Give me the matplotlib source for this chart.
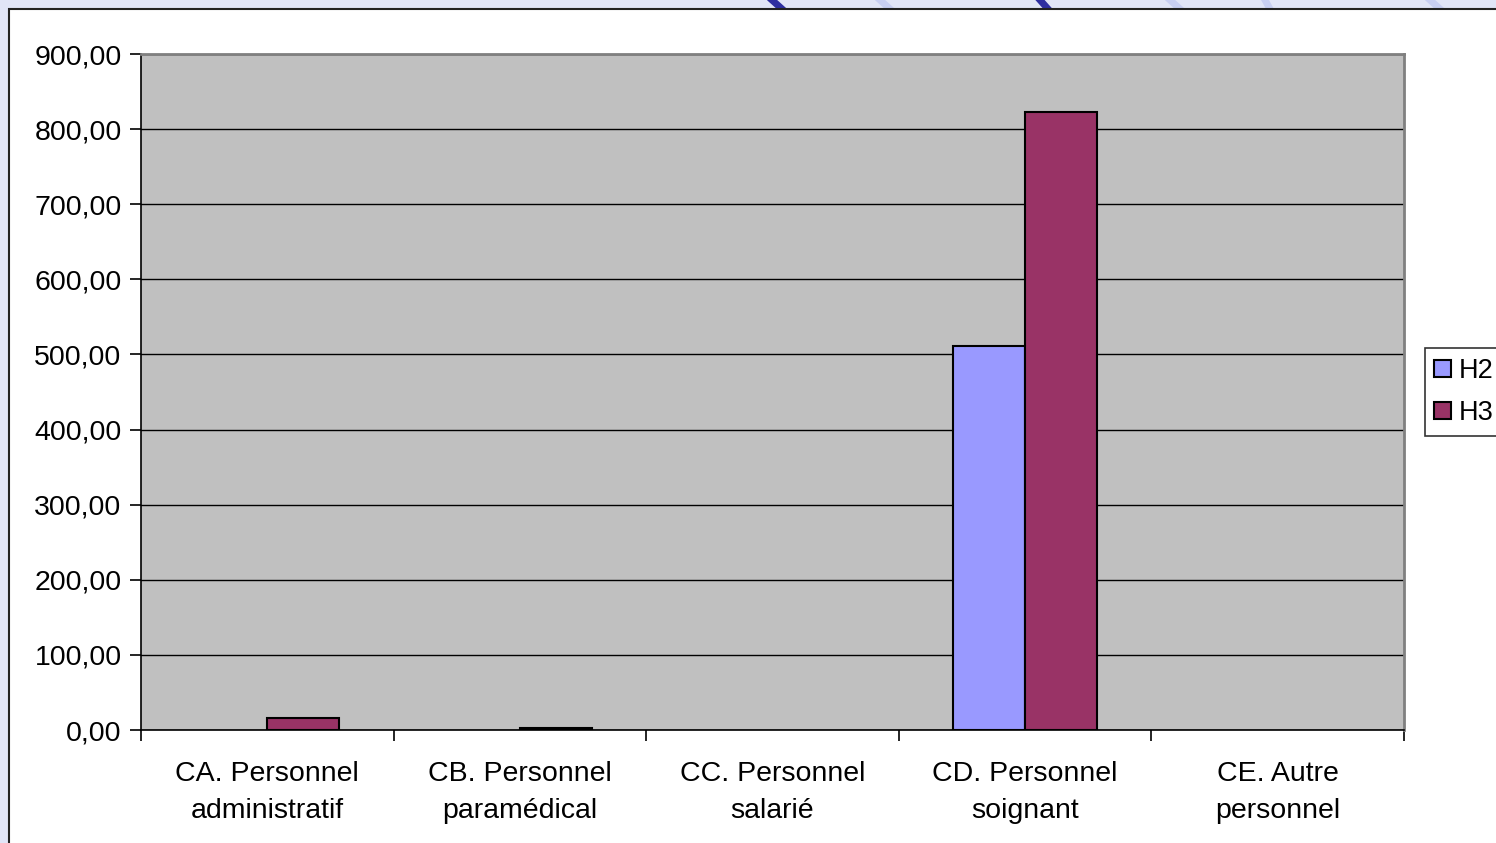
import numpy as np
import matplotlib
matplotlib.use("Agg")
from matplotlib import pyplot as plt
from matplotlib.patches import Rectangle
from matplotlib.ticker import FuncFormatter

categories = ["CA. Personnel\nadministratif", "CB. Personnel\nparamédical",
              "CC. Personnel\nsalarié", "CD. Personnel\nsoignant",
              "CE. Autre\npersonnel"]
h2 = [0, 0, 0, 511, 0]
h3 = [16, 3, 0, 823, 0]
series_names = ["H2", "H3"]

plt.rcParams['font.family'] = ['Liberation Sans', 'DejaVu Sans']

W, H = 1496, 843
fig = plt.figure(figsize=(W / 100, H / 100), dpi=100)
fig.patch.set_facecolor("#E1E5F7")

# faint watermark strokes at the top edge
for x0, x1, c, lw in [(772, 782, "#2E2EA0", 5), (1040, 1048, "#2E2EA0", 5),
                      (880, 890, "#C8CFF2", 5), (1170, 1180, "#C8CFF2", 5),
                      (1265, 1270, "#C8CFF2", 5), (1430, 1440, "#C8CFF2", 5)]:
    fig.add_artist(plt.Line2D([x0 / W, x1 / W], [1, 1 - 9 / H], color=c, lw=lw,
                              transform=fig.transFigure, zorder=0))

# white chart area with dark border
fig.add_artist(Rectangle((9 / W, -0.1), 1.2, 1 - 9 / H + 0.1, transform=fig.transFigure,
                         facecolor="white", edgecolor="#222222", lw=1.5, zorder=1))

ax = fig.add_axes([141 / W, 1 - 730 / H, (1404 - 141) / W, (730 - 54) / H])
ax.set_zorder(2)
ax.set_facecolor("#C0C0C0")

x = np.arange(len(categories))
w = 1 / 3.5
b1 = ax.bar(x - w / 2, h2, w, color="#9999FF", edgecolor="black",
            lw=[1.5 if v else 0 for v in h2], zorder=3)
b2 = ax.bar(x + w / 2, h3, w, color="#993366", edgecolor="black",
            lw=[1.5 if v else 0 for v in h3], zorder=3)

ax.set_xlim(-0.5, len(categories) - 0.5)
ax.set_ylim(0, 900)
ax.set_yticks(np.arange(0, 901, 100))
ax.yaxis.set_major_formatter(FuncFormatter(lambda v, p: f"{v:.2f}".replace(".", ",")))
ax.yaxis.grid(True, color="black", lw=1)
ax.set_axisbelow(True)

ax.set_xticks(x)
ax.set_xticklabels(categories, fontsize=20.5, linespacing=1.55)
ax.set_xticks(np.arange(-0.5, len(categories)), minor=True)
ax.tick_params(axis="x", which="major", length=0, pad=22)
ax.tick_params(axis="x", which="minor", length=8, width=1.2, color="black")
ax.tick_params(axis="y", labelsize=20.5, length=8, width=1.2, pad=6)

for s in ["top", "right"]:
    ax.spines[s].set_color("#808080")
    ax.spines[s].set_linewidth(2)
for s in ["left", "bottom"]:
    ax.spines[s].set_color("black")
    ax.spines[s].set_linewidth(1.2)

leg = fig.legend([b1[3], b2[3]], series_names, loc="center left",
                 bbox_to_anchor=(1425 / W, 1 - 392 / H), fontsize=19.5,
                 frameon=True, fancybox=False, edgecolor="black",
                 handlelength=0.6, handleheight=0.6, handletextpad=0.3,
                 borderpad=0.35, labelspacing=0.6, borderaxespad=0)
leg.get_frame().set_linewidth(1.2)
leg.set_zorder(5)

fig.savefig("out.png", dpi=100, facecolor=fig.get_facecolor())
